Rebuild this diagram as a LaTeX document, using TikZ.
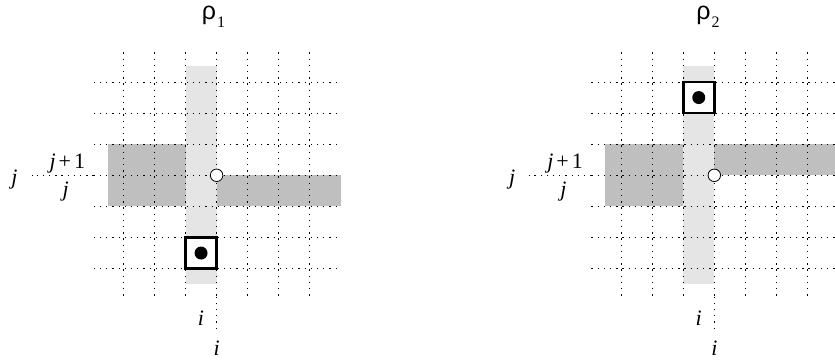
\documentclass[tikz,border=0pt]{standalone}
\usepackage{fontspec}
\setmainfont{Liberation Serif}
\newfontfamily\greekfont{Liberation Sans}
\usetikzlibrary{positioning}

\begin{document}
\begin{tikzpicture}[
    x=1pt, y=-1pt,
    every node/.style={font=\fontsize{22}{24}\selectfont, inner sep=0pt},
    gl/.style={line width=0.9pt, dash pattern=on 1.3pt off 4.9pt},
    col/.style={fill=black!10},
    arm/.style={fill=black!25},
    cell/.style={draw, line width=2.6pt, fill=white},
    hole/.style={circle, draw, fill=white, line width=0.8pt, minimum size=12.5pt},
    dot/.style={circle, fill=black, minimum size=13pt},
    ttl/.style={font=\fontsize{25}{27}\selectfont},
  ]
  \useasboundingbox (0,0) rectangle (835,362);

  % rho_1
  \begin{scope}[xshift=123.3pt, yshift=-82pt, x=31.1pt, y=-31.1pt]
    \fill[col] (2,-0.5) rectangle (3,6.5);
    \fill[arm] (-0.5,2) rectangle (2,4);
    \fill[arm] (3,3) rectangle (7,4);
    \foreach \k in {0,...,6} {
      \draw[gl] (\k,-0.95) -- (\k,6.9);
      \draw[gl] (-0.95,\k) -- (6.95,\k);
    }
    \draw[gl] (3,6.9) -- (3,7.95);
    \draw[gl] (-0.95,3) -- (-2.95,3);
    \draw[cell] (2,5) rectangle (3,6);
    \node[dot] (dot1) at (2.5,5.5) {};
    \node[hole] (hole1) at (3,3) {};
    \node[ttl] (rho1) at (2.9,-2.1) {{\greekfont ρ}\kern1pt\raisebox{-0.7ex}{\fontsize{16}{16}\selectfont 1}};
    \node (jl1) at (-3.5,3.15) {\textit{j}};
    \node (jt1) at (-1.8,2.62) {\textit{j}\kern3pt+\kern3pt1};
    \node (jb1) at (-1.85,3.52) {\textit{j}};
    \node (iu1) at (2.5,7.59) {\textit{i}};
    \node (id1) at (3,8.55) {\textit{i}};
  \end{scope}

  % rho_2
  \begin{scope}[xshift=621pt, yshift=-82pt, x=31.1pt, y=-31.1pt]
    \fill[col] (2,-0.5) rectangle (3,6.5);
    \fill[arm] (-0.5,2) rectangle (2,4);
    \fill[arm] (3,2) rectangle (7,3);
    \foreach \k in {0,...,6} {
      \draw[gl] (\k,-0.95) -- (\k,6.9);
      \draw[gl] (-0.95,\k) -- (6.95,\k);
    }
    \draw[gl] (3,6.9) -- (3,7.95);
    \draw[gl] (-0.95,3) -- (-2.95,3);
    \draw[cell] (2,0) rectangle (3,1);
    \node[dot] (dot2) at (2.5,0.5) {};
    \node[hole] (hole2) at (3,3) {};
    \node[ttl] (rho2) at (2.8,-2.1) {{\greekfont ρ}\kern1pt\raisebox{-0.7ex}{\fontsize{16}{16}\selectfont 2}};
    \node (jl2) at (-3.5,3.15) {\textit{j}};
    \node (jt2) at (-1.8,2.62) {\textit{j}\kern3pt+\kern3pt1};
    \node (jb2) at (-1.85,3.52) {\textit{j}};
    \node (iu2) at (2.5,7.59) {\textit{i}};
    \node (id2) at (3,8.55) {\textit{i}};
  \end{scope}
\end{tikzpicture}
\end{document}
